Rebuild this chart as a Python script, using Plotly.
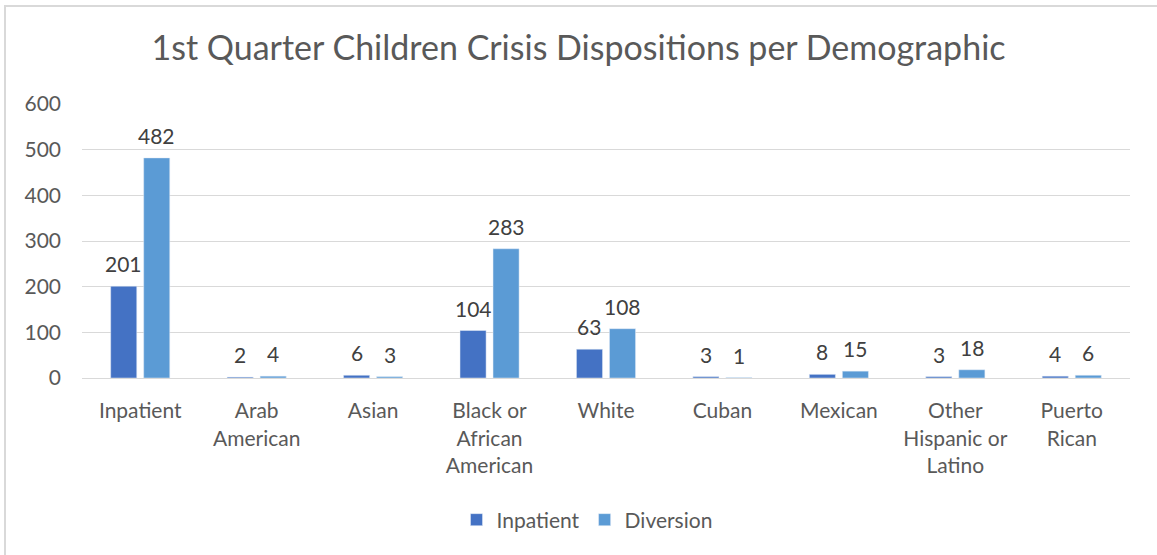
import plotly.graph_objects as go

categories = ["Inpatient", "Arab<br>American", "Asian", "Black or<br>African<br>American", "White",
              "Cuban", "Mexican", "Other<br>Hispanic or<br>Latino", "Puerto<br>Rican"]
inpatient = [201, 2, 6, 104, 63, 3, 8, 3, 4]
diversion = [482, 4, 3, 283, 108, 1, 15, 18, 6]
y_ticks = [0, 100, 200, 300, 400, 500, 600]

W, H = 1157, 555
L, R, T, B = 82, 27, 104, 177
pw, ph = W - L - R, H - T - B
bargap, bargroupgap = 0.433, 0.21
cat_px = pw / len(categories)
off_px = (1 - bargap) / 4 * cat_px  # half a bar slot in pixels

font = "Lato"
fs = 21
fig = go.Figure()
fig.add_trace(go.Bar(name="Inpatient", x=categories, y=inpatient, marker_color="#4472C4"))
fig.add_trace(go.Bar(name="Diversion", x=categories, y=diversion, marker_color="#5B9BD5"))

annotations = []
for vals, sign in ((inpatient, -1), (diversion, 1)):
    for c, v in zip(categories, vals):
        annotations.append(dict(x=c, y=v, xref="x", yref="y", text=str(v), showarrow=False,
                                xshift=sign * off_px, yanchor="bottom", yshift=8,
                                font=dict(size=fs, color="#404040", family=font)))

fig.update_layout(
    width=W, height=H,
    margin=dict(l=L, r=R, t=T, b=B, autoexpand=False),
    paper_bgcolor="white", plot_bgcolor="white",
    barmode="group", bargap=bargap, bargroupgap=bargroupgap,
    font=dict(family=font, color="#595959", size=fs),
    title=dict(text="1st Quarter Children Crisis Dispositions per Demographic",
               x=0.5, xanchor="center", y=1 - 48 / H, yanchor="middle",
               font=dict(size=34, color="#595959", family=font)),
    legend=dict(orientation="h", x=(587 - L) / pw, xanchor="center",
                y=(378 - 520) / ph, yanchor="middle", font=dict(size=fs, color="#595959"),
                itemwidth=30, traceorder="normal"),
    showlegend=True,
    annotations=annotations,
    shapes=[dict(type="rect", xref="paper", yref="paper",
                 x0=(5 - L) / pw, x1=(W + 20 - L) / pw,
                 y0=(378 - (H + 20)) / ph, y1=1 + (T - 6) / ph,
                 line=dict(color="#D9D9D9", width=2), layer="below")],
)
fig.update_yaxes(range=[0, 600], tickvals=y_ticks, showgrid=True, gridcolor="#D9D9D9",
                 gridwidth=1, zeroline=False, showline=False, ticks="",
                 ticklabelstandoff=20, tickfont=dict(size=fs, color="#595959"))
fig.update_xaxes(showline=True, linecolor="#D9D9D9", linewidth=1, ticks="",
                 ticklabelstandoff=14, tickfont=dict(size=fs, color="#595959"))

fig.write_html("out.html")
